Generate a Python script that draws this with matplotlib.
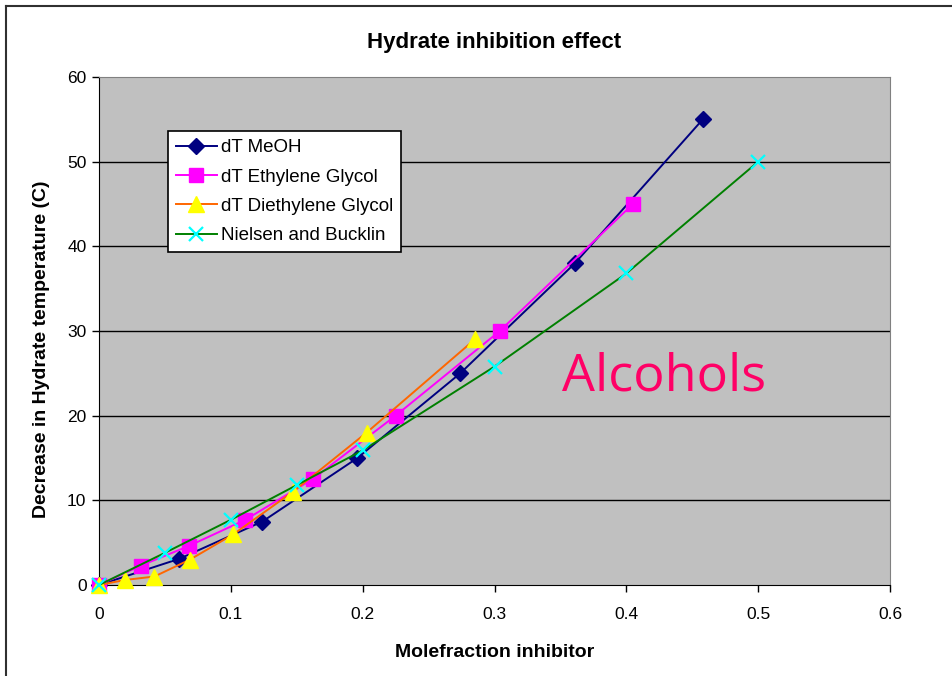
import matplotlib.pyplot as plt
from matplotlib.lines import Line2D

plt.rcParams['font.family'] = ['Liberation Sans', 'DejaVu Sans']

# data
meoh_x = [0, 0.061, 0.124, 0.196, 0.274, 0.361, 0.458]
meoh_y = [0, 3.1, 7.5, 15.0, 25.0, 38.0, 55.0]

eg_x = [0, 0.032, 0.068, 0.111, 0.162, 0.225, 0.304, 0.405]
eg_y = [0, 2.3, 4.6, 7.7, 12.5, 20.0, 30.0, 45.0]

deg_x = [0, 0.020, 0.042, 0.069, 0.102, 0.147, 0.203, 0.285]
deg_y = [0, 0.6, 1.0, 3.0, 6.0, 11.0, 18.0, 29.0]

nb_x = [0, 0.05, 0.10, 0.15, 0.20, 0.30, 0.40, 0.50]
nb_y = [0, 3.8, 7.7, 11.8, 15.9, 25.8, 36.8, 50.0]

x_ticks = [0, 0.1, 0.2, 0.3, 0.4, 0.5, 0.6]
x_tick_labels = ['0', '0.1', '0.2', '0.3', '0.4', '0.5', '0.6']
y_ticks = [0, 10, 20, 30, 40, 50, 60]

fig = plt.figure(figsize=(9.52, 6.76), dpi=100)
ax = fig.add_axes([99 / 952, 1 - 585 / 676, (890 - 99) / 952, (585 - 77) / 676])
ax.set_facecolor('#C0C0C0')

for y in y_ticks[1:-1]:
    ax.axhline(y, color='black', lw=1.0, zorder=1)

ax.plot(meoh_x, meoh_y, color='#000080', lw=1.4, marker='D', ms=8,
        mfc='#000080', mec='#000080', label='dT MeOH', zorder=3, clip_on=False)
ax.plot(eg_x, eg_y, color='#FF00FF', lw=1.4, marker='s', ms=10,
        mfc='#FF00FF', mec='#FF00FF', label='dT Ethylene Glycol', zorder=3, clip_on=False)
ax.plot(deg_x, deg_y, color='#FF6600', lw=1.4, marker='^', ms=11,
        mfc='#FFFF00', mec='#FFFF00', label='dT Diethylene Glycol', zorder=3, clip_on=False)
ax.plot(nb_x, nb_y, color='#008000', lw=1.4, marker='x', ms=10, mew=1.6,
        mec='#00FFFF', label='Nielsen and Bucklin', zorder=3, clip_on=False)

ax.set_xlim(0, 0.6)
ax.set_ylim(0, 60)
ax.set_xticks(x_ticks)
ax.set_xticklabels(x_tick_labels)
ax.set_yticks(y_ticks)
ax.tick_params(direction='out', length=5, width=1, labelsize=12.5, colors='black')
ax.tick_params(axis='x', pad=11)
ax.tick_params(axis='y', pad=4)

ax.spines['left'].set_color('black')
ax.spines['bottom'].set_color('black')
ax.spines['top'].set_color('#808080')
ax.spines['right'].set_color('#808080')

ax.set_title('Hydrate inhibition effect', fontsize=16, fontweight='bold', pad=21)
ax.set_xlabel('Molefraction inhibitor', fontsize=14, fontweight='bold', labelpad=16)
ax.set_ylabel('Decrease in Hydrate temperature (C)', fontsize=14, fontweight='bold')
ax.yaxis.set_label_coords(-0.062, 0.465)

leg = ax.legend(loc='upper left', bbox_to_anchor=(0.087, 0.893), fontsize=13.5,
                frameon=True, fancybox=False, edgecolor='black', framealpha=1,
                handlelength=2.2, labelspacing=0.65, borderpad=0.42, handletextpad=0.2,
                borderaxespad=0)
leg.get_frame().set_linewidth(1.2)

ax.text(0.351, 24.6, 'Alcohols', color='#FF0066', fontsize=37.5, va='center',
        family=['Open Sans', 'DejaVu Sans'], zorder=4)

# outer chart frame (top and left edges visible)
fig.add_artist(Line2D([6 / 952, 1], [1 - 6 / 676, 1 - 6 / 676], color='#303030', lw=1.5,
                      transform=fig.transFigure))
fig.add_artist(Line2D([6 / 952, 6 / 952], [0, 1 - 6 / 676], color='#303030', lw=1.5,
                      transform=fig.transFigure))

fig.savefig('out.png', dpi=100, facecolor='white')
